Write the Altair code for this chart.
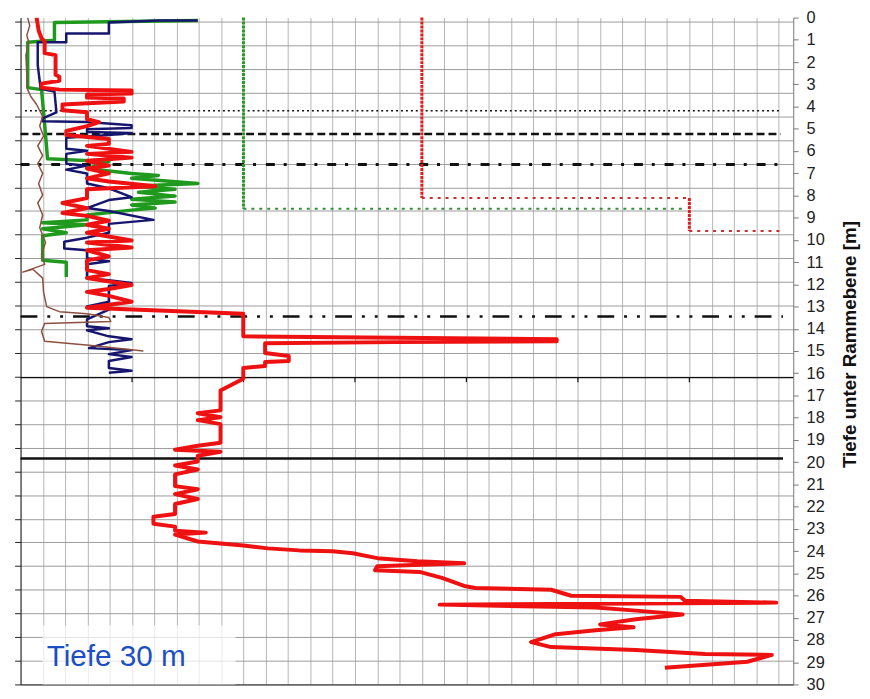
import altair as alt
import pandas as pd

# ---------------- data (x in grid units, depth in metres) ----------------
X_MAX = 34.66
x_grid = list(range(0, 35))
left_ticks = list(range(0, 29))
depth_ticks = list(range(0, 31))

red_x = [0.72, 0.81, 0.94, 1.08, 1.08, 1.57, 1.57, 1.74, 1.74, 0.94, 0.94, 1.74, 4.98, 4.98, 2.98, 2.98,
         4.63, 4.63, 1.88, 1.88, 2.98, 2.98, 3.52, 2.98, 2.05, 2.05, 2.98, 3.96, 3.96, 2.98, 4.98, 2.98,
         4.98, 2.98, 3.96, 2.98, 3.96, 2.98, 3.96, 6.04, 2.98, 2.98, 1.88, 2.98, 1.88, 2.98, 3.96, 2.98,
         3.96, 2.98, 4.98, 2.98, 4.98, 2.98, 3.96, 2.98, 2.98, 3.96, 2.98, 4.98, 3.96, 2.98, 3.96, 4.98,
         3.96, 2.98, 9.99, 9.99, 24.05, 24.05, 16.82, 10.97, 10.97, 12.03, 12.03, 10.97, 10.97, 9.99, 9.99,
         8.97, 8.97, 7.95, 8.97, 7.95, 8.97, 8.97, 7.95, 6.93, 8.97, 7.95, 7.95, 6.93, 7.95, 6.93, 6.93,
         7.95, 6.93, 7.95, 6.93, 6.93, 5.96, 5.96, 6.93, 6.93, 8.31, 6.93, 7.95, 8.97, 10.0, 11.1, 12.5,
         14.0, 14.9, 16.0, 17.8, 19.9, 16.0, 15.9, 17.9, 18.9, 19.9, 20.4, 23.8, 24.7, 29.6, 29.8, 33.9,
         18.8, 25.8, 27.6, 29.7, 27.6, 26.0, 27.5, 25.8, 24.0, 22.9, 23.8, 27.6, 30.7, 33.7, 32.6, 28.9]
red_d = [0.00, 0.58, 0.93, 1.07, 1.60, 1.69, 2.57, 2.66, 2.84, 2.97, 3.15, 3.24, 3.28, 3.42, 3.46, 3.60,
         3.64, 3.77, 3.91, 4.17, 4.26, 4.57, 4.70, 4.88, 5.10, 5.28, 5.37, 5.46, 5.68, 5.77, 6.04, 6.13,
         6.30, 6.44, 6.66, 6.79, 7.01, 7.23, 7.37, 7.59, 7.72, 8.12, 8.34, 8.57, 8.79, 8.92, 9.14, 9.32,
         9.50, 9.68, 10.03, 10.12, 10.34, 10.47, 10.74, 10.92, 11.36, 11.54, 11.72, 12.03, 12.21, 12.34, 12.52, 12.78,
         12.92, 13.05, 13.32, 14.34, 14.47, 14.56, 14.60, 14.65, 15.09, 15.22, 15.45, 15.49, 15.67, 15.76, 16.25,
         16.78, 17.67, 17.80, 17.98, 18.11, 18.29, 19.13, 19.26, 19.44, 19.53, 19.71, 19.97, 20.15, 20.33, 20.55, 21.08,
         21.22, 21.44, 21.66, 21.88, 22.33, 22.46, 22.77, 22.90, 23.08, 23.17, 23.26, 23.57, 23.66, 23.75, 23.88, 23.97,
         24.01, 24.10, 24.32, 24.46, 24.55, 24.68, 24.86, 24.94, 25.21, 25.57, 25.66, 25.74, 26.01, 26.06, 26.23, 26.32,
         26.41, 26.54, 26.68, 26.85, 27.07, 27.30, 27.43, 27.56, 27.74, 28.10, 28.32, 28.45, 28.63, 28.67, 28.98, 29.25]

blue_x = [7.95, 6.18, 3.96, 3.96, 2.05, 2.05, 0.77, 0.77, 0.90, 1.52, 1.61, 0.99, 0.99, 2.98, 4.98, 4.98,
          2.98, 2.98, 4.98, 3.96, 2.05, 2.05, 2.98, 2.05, 2.05, 2.98, 2.05, 2.98, 2.98, 3.96, 4.98, 3.96,
          2.98, 3.96, 5.96, 3.96, 3.96, 2.98, 1.96, 1.96, 2.98, 2.98, 3.96, 2.98, 2.98, 3.96, 4.98, 3.96,
          3.96, 2.98, 3.96, 2.98, 2.98, 3.96, 2.98, 3.96, 4.98, 3.96, 3.07, 4.98, 3.96, 4.98, 3.96, 3.96,
          4.98, 3.96]
blue_d = [0.13, 0.13, 0.22, 0.71, 0.71, 1.11, 1.11, 2.13, 3.20, 3.33, 4.26, 4.53, 4.66, 4.70, 4.84, 4.97,
          5.02, 5.15, 5.19, 5.28, 5.41, 5.90, 5.99, 6.13, 6.57, 6.66, 6.84, 7.01, 7.46, 7.68, 8.08, 8.21,
          8.57, 8.70, 9.10, 9.28, 9.68, 9.90, 10.08, 10.39, 10.47, 10.83, 10.96, 11.10, 11.72, 11.81, 11.94, 12.07,
          12.78, 13.00, 13.14, 13.58, 13.89, 13.98, 14.07, 14.34, 14.47, 14.60, 14.87, 14.96, 15.14, 15.27, 15.45, 15.76,
          15.89, 15.98]

green_x = [7.95, 1.52, 1.52, 0.32, 0.32, 0.94, 1.08, 1.21, 3.96, 2.98, 4.98, 6.18, 4.98, 7.95, 4.98, 6.93,
           5.29, 6.93, 4.98, 6.93, 4.98, 6.04, 4.98, 2.98, 2.98, 0.99, 2.98, 0.99, 2.05, 0.99, 0.99, 2.05, 2.05]
green_d = [0.13, 0.22, 1.02, 1.11, 3.15, 3.24, 4.79, 6.35, 6.48, 6.79, 7.01, 7.10, 7.23, 7.46, 7.59, 7.72,
           7.86, 8.03, 8.17, 8.30, 8.43, 8.57, 8.66, 8.88, 9.10, 9.23, 9.32, 9.50, 9.68, 9.81, 10.92, 11.01, 11.67]

brown_x = [0.32, 0.41, 0.28, 0.37, 0.24, 0.28, 0.32, 0.46, 0.72, 0.99, 0.86, 1.03, 0.77, 0.99, 0.77, 0.99,
           0.81, 0.99, 0.77, 0.99, 0.86, 1.12, 0.94, 1.08, 0.10, 0.55, 0.99, 1.03, 1.17, 1.74, 2.98, 3.96,
           4.05, 1.08, 0.94, 1.08, 3.07, 5.51]
brown_d = [0.00, 0.36, 0.80, 1.11, 1.69, 2.57, 3.24, 3.55, 3.91, 4.44, 4.88, 5.33, 5.77, 6.21, 6.57, 7.01,
           7.46, 7.99, 8.34, 8.88, 9.45, 10.12, 10.65, 11.10, 11.45, 11.32, 11.72, 12.34, 13.00, 13.23, 13.32, 13.49,
           13.67, 13.76, 14.11, 14.56, 14.74, 15.00]

# black reference lines: depth, x start, x end
ref_depth = [4.19, 5.24, 6.61, 13.45, 16.2, 19.84]
ref_x0 = [0.2, 0.0, 0.0, 0.0, 0.0, 0.0]
ref_x1 = [34.1, 34.1, 34.3, 34.2, 34.66, 34.2]
axis_ticks_x = [5, 10, 15, 20, 25, 30]

# coloured dotted limit lines (x0, x1, d0, d1)
green_lim_x0 = [10.0, 10.0]
green_lim_x1 = [10.0, 29.8]
green_lim_d0 = [0.0, 8.6]
green_lim_d1 = [8.6, 8.6]
red_lim_x0 = [18.0, 18.0, 30.0, 30.0]
red_lim_x1 = [18.0, 30.0, 30.0, 34.1]
red_lim_d0 = [0.0, 8.12, 8.12, 9.6]
red_lim_d1 = [8.12, 8.12, 9.6, 9.6]

label_text = ["Tiefe 30 m"]
label_x = [1.17]
label_d = [29.17]
box_x = [0.99, 9.64]
box_d = [27.35, 30.0]

# ---------------- chart ----------------
FONT = "Liberation Sans"
xs = alt.Scale(domain=[0, X_MAX], nice=False, zero=False)
ys = alt.Scale(domain=[0, 30], reverse=True, nice=False, zero=False)

x_axis = alt.Axis(values=x_grid, grid=True, gridColor="#b4b4b4", gridWidth=1, labels=False,
                  ticks=False, domain=True, domainColor="#222222", title=None, orient="bottom")
y_axis = alt.Axis(orient="right", values=depth_ticks, title="Tiefe unter Rammebene [m]",
                  titleAngle=270, titleFontSize=19, titleFontWeight="bold", titleFont=FONT,
                  titleColor="#111111", titleX=57, titleY=330, titleAlign="center", titleBaseline="middle",
                  labelFont=FONT, labelFontSize=16.5, labelColor="#222222", labelPadding=8,
                  labelFlush=False, labelOverlap=False, tickSize=5, tickColor="#777777",
                  domainColor="#777777", grid=False)


def X(field):
    return alt.X(field, scale=xs, axis=x_axis)


def Y(field):
    return alt.Y(field, scale=ys, axis=y_axis)


def series_df(xv, dv):
    return pd.DataFrame({"x": xv, "d": dv, "i": list(range(len(xv)))})


def line_layer(xv, dv, color, width):
    return alt.Chart(series_df(xv, dv)).mark_line(
        color=color, strokeWidth=width, strokeJoin="round", clip=True
    ).encode(x=X("x:Q"), y=Y("d:Q"), order="i:Q")


layers = []

# reference lines
ref_styles = [
    dict(strokeDash=[2, 3], strokeWidth=1.5),
    dict(strokeDash=[8, 4], strokeWidth=2.5),
    dict(strokeDash=[9, 9, 3, 10], strokeWidth=3),
    dict(strokeDash=[17, 10, 3, 10, 3, 10], strokeWidth=2.5),
    dict(strokeWidth=1.3),
    dict(strokeWidth=2.5),
]
for k in range(len(ref_depth)):
    df = pd.DataFrame({"x0": [ref_x0[k]], "x1": [ref_x1[k]], "d": [ref_depth[k]]})
    layers.append(
        alt.Chart(df).mark_rule(color="#111111", **ref_styles[k]).encode(
            x=X("x0:Q"), x2="x1:Q", y=Y("d:Q"),
        )
    )

tick_df = pd.DataFrame({"x": axis_ticks_x, "d0": [16.2] * len(axis_ticks_x), "d1": [16.4] * len(axis_ticks_x)})
layers.append(
    alt.Chart(tick_df).mark_rule(color="#111111", strokeWidth=1.2).encode(
        x=X("x:Q"), y=Y("d0:Q"), y2="d1:Q",
    )
)


def limit_layer(x0, x1, d0, d1, color, dash, width):
    df = pd.DataFrame({"x0": x0, "x1": x1, "d0": d0, "d1": d1})
    return alt.Chart(df).mark_rule(color=color, strokeDash=dash, strokeWidth=width).encode(
        x=X("x0:Q"), x2="x1:Q", y=Y("d0:Q"), y2="d1:Q",
    )


# vertical (dense) and horizontal (sparse) limit lines
layers.append(limit_layer(green_lim_x0[:1], green_lim_x1[:1], green_lim_d0[:1], green_lim_d1[:1], "#2a9a2a", [3, 1], 3))
layers.append(limit_layer(green_lim_x0[1:], green_lim_x1[1:], green_lim_d0[1:], green_lim_d1[1:], "#3d8a3d", [3, 5], 2))
layers.append(limit_layer([red_lim_x0[0], red_lim_x0[2]], [red_lim_x1[0], red_lim_x1[2]],
                          [red_lim_d0[0], red_lim_d0[2]], [red_lim_d1[0], red_lim_d1[2]], "#e02020", [3, 1], 3))
layers.append(limit_layer([red_lim_x0[1], red_lim_x0[3]], [red_lim_x1[1], red_lim_x1[3]],
                          [red_lim_d0[1], red_lim_d0[3]], [red_lim_d1[1], red_lim_d1[3]], "#c83030", [3, 5], 2))

# data curves
layers.append(line_layer(green_x, green_d, "#1f9a1f", 3.5))
layers.append(line_layer(blue_x, blue_d, "#16166e", 2.5))
layers.append(line_layer(red_x, red_d, "#ee1111", 4))
layers.append(line_layer(brown_x, brown_d, "#8c5040", 1.5))

# label box and text
box_df = pd.DataFrame({"x0": [box_x[0]], "x1": [box_x[1]], "d0": [box_d[0]], "d1": [box_d[1]]})
layers.append(
    alt.Chart(box_df).mark_rect(color="white", opacity=0.72).encode(
        x=X("x0:Q"), x2="x1:Q", y=Y("d0:Q"), y2="d1:Q",
    )
)
text_df = pd.DataFrame({"t": label_text, "x": label_x, "d": label_d})
layers.append(
    alt.Chart(text_df).mark_text(align="left", baseline="alphabetic", fontSize=30, font=FONT,
                                 color="#1d4fc4").encode(
        x=X("x:Q"), y=Y("d:Q"), text="t:N",
    )
)

# left axis with horizontal grid (independent scale)
grid_layer = alt.Chart(pd.DataFrame({"g": left_ticks})).mark_rule(opacity=0).encode(
    y=alt.Y("g:Q", scale=alt.Scale(domain=[0, 28.17], nice=False, zero=False),
            axis=alt.Axis(orient="left", values=left_ticks, grid=True, gridColor="#9c9c9c", gridWidth=1,
                          labels=False, ticks=True, tickSize=6, tickColor="#222222",
                          domainColor="#222222", title=None))
)

chart = alt.layer(grid_layer, alt.layer(*layers)).resolve_scale(y="independent").properties(
    width=781, height=674,
    padding={"left": 12.7, "top": 6, "right": 69.5, "bottom": 10},
    autosize=alt.AutoSizeParams(type="none"),
).configure_view(stroke=None)

chart.save("out.html", embed_options={"renderer": "svg", "actions": False})
